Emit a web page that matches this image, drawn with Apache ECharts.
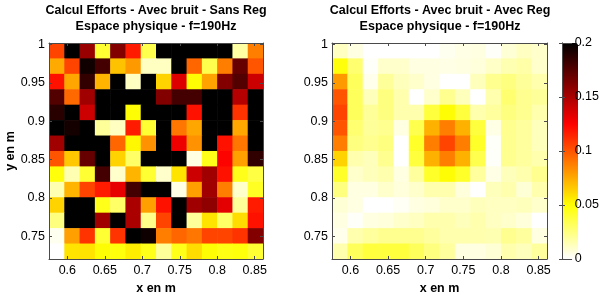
<!DOCTYPE html>
<html><head><meta charset="utf-8">
<script src="https://cdn.jsdelivr.net/npm/echarts@6/dist/echarts.min.js"></script>
<style>html,body{margin:0;padding:0;background:#fff}#c{width:602px;height:300px}</style>
</head><body><div id="c"></div>
<script>
// cell centres (data units, metres)
const xCenters = [0.5857, 0.6061, 0.6265, 0.6469, 0.6673, 0.6877, 0.7081, 0.7285, 0.7489, 0.7693, 0.7897, 0.8101, 0.8305, 0.8509];
// rows listed from top (y high) to bottom
const yCenters = [0.9919, 0.9718, 0.9517, 0.9316, 0.9115, 0.8914, 0.8713, 0.8512, 0.8311, 0.8110, 0.7909, 0.7708, 0.7507, 0.7306];
const xRange = [0.5755, 0.8611];
const yRange = [0.7205, 1.0019];
const colorRange = [0, 0.2];
const colorTicks = [0, 0.05, 0.1, 0.15, 0.2];

const titleLeft = ['Calcul Efforts - Avec bruit - Sans Reg', 'Espace physique - f=190Hz'];
const titleRight = ['Calcul Efforts - Avec bruit - Avec Reg', 'Espace physique - f=190Hz'];
const xName = 'x en m';
const yName = 'y en m';

// |effort| values, rows top -> bottom, columns left -> right
const sansReg = [
  [0.105, 0.2, 0.155, 0.04, 0.162, 0.117, 0.035, 0.2, 0.2, 0.2, 0.2, 0.2, 0.018, 0.088],
  [0.075, 0.105, 0.195, 0.18, 0.068, 0.08, 0.012, 0.012, 0.2, 0.095, 0.035, 0.088, 0.17, 0.1],
  [0.12, 0.076, 0.185, 0.072, 0.2, 0.012, 0.2, 0.063, 0.135, 0.05, 0.077, 0.162, 0.176, 0.14],
  [0.176, 0.094, 0.153, 0.2, 0.2, 0.2, 0.2, 0.162, 0.18, 0.18, 0.2, 0.2, 0.147, 0.2],
  [0.188, 0.2, 0.14, 0.2, 0.2, 0.05, 0.2, 0.2, 0.2, 0.12, 0.2, 0.2, 0.11, 0.2],
  [0.2, 0.194, 0.2, 0.02, 0.012, 0.117, 0.04, 0.2, 0.09, 0.076, 0.2, 0.2, 0.076, 0.2],
  [0.153, 0.2, 0.2, 0.2, 0.095, 0.052, 0.082, 0.2, 0.13, 0.082, 0.2, 0.12, 0.09, 0.2],
  [0.1, 0.066, 0.17, 0.2, 0.063, 0.03, 0.2, 0.2, 0.2, 0.006, 0.045, 0.125, 0.078, 0.186],
  [0.048, 0.015, 0.04, 0.18, 0.01, 0.072, 0.04, 0.01, 0.058, 0.14, 0.153, 0.12, 0.045, 0.037],
  [0.015, 0.072, 0.105, 0.117, 0.132, 0.18, 0.2, 0.2, 0.005, 0.078, 0.153, 0.088, 0.01, 0.043],
  [0.063, 0.2, 0.2, 0.045, 0.03, 0.15, 0.078, 0.12, 0.2, 0.153, 0.158, 0.133, 0.02, 0.117],
  [0.025, 0.2, 0.2, 0.153, 0.2, 0.15, 0.023, 0.105, 0.2, 0.02, 0.058, 0.03, 0.06, 0.12],
  [0.003, 0.078, 0.11, 0.04, 0.11, 0.2, 0.196, 0.088, 0.095, 0.09, 0.105, 0.105, 0.11, 0.162],
  [0, 0.058, 0.058, 0.05, 0.048, 0.055, 0.045, 0.02, 0.045, 0.06, 0.05, 0.046, 0.048, 0.04]
];
const avecReg = [
  [0.012, 0.006, 0, 0, 0, 0, 0, 0.003, 0.005, 0.006, 0.001, 0.008, 0.012, 0.01],
  [0.048, 0.028, 0.001, 0.01, 0.01, 0.006, 0.006, 0.005, 0.006, 0.007, 0.011, 0.015, 0.017, 0.01],
  [0.08, 0.032, 0.004, 0.02, 0.013, 0.01, 0.006, 0, 0, 0.013, 0.022, 0.025, 0.02, 0.016],
  [0.1, 0.032, 0.013, 0.025, 0.016, 0, 0.01, 0.022, 0.013, 0, 0.016, 0.028, 0.022, 0.02],
  [0.105, 0.032, 0.02, 0.025, 0.016, 0.016, 0.038, 0.05, 0.038, 0.016, 0.019, 0.025, 0.022, 0.016],
  [0.1, 0.028, 0.02, 0.022, 0.006, 0.035, 0.073, 0.088, 0.073, 0.038, 0.005, 0.022, 0.019, 0.013],
  [0.088, 0.025, 0.022, 0.025, 0, 0.042, 0.088, 0.105, 0.088, 0.042, 0.001, 0.022, 0.019, 0.013],
  [0.063, 0.016, 0.013, 0.022, 0, 0.038, 0.073, 0.088, 0.073, 0.035, 0.001, 0.022, 0.019, 0.016],
  [0.042, 0.01, 0.013, 0.016, 0.006, 0.019, 0.042, 0.05, 0.042, 0.019, 0.005, 0.013, 0.016, 0.022],
  [0.025, 0.006, 0.006, 0.01, 0.007, 0.01, 0.016, 0.016, 0.007, 0, 0.013, 0.016, 0.008, 0.016],
  [0.008, 0.006, 0, 0, 0.002, 0.006, 0.007, 0.01, 0.01, 0.013, 0.012, 0.012, 0.013, 0.01],
  [0.006, 0.001, 0.006, 0.007, 0.01, 0.012, 0.016, 0.016, 0.013, 0.016, 0.012, 0.01, 0.007, 0],
  [0.004, 0.016, 0.019, 0.022, 0.022, 0.022, 0.019, 0.016, 0.016, 0.016, 0.015, 0.022, 0.019, 0.006],
  [0.016, 0.032, 0.038, 0.038, 0.038, 0.032, 0.025, 0.019, 0.006, 0.006, 0.008, 0.016, 0.013, 0.019]
];

// reversed MATLAB "hot" colormap (white at 0, black at max)
function hotReversed(n) {
  const out = [];
  const c = v => Math.round(255 * Math.max(0, Math.min(1, v)));
  for (let i = 0; i < n; i++) {
    const t = 1 - i / (n - 1);
    out.push('rgb(' + c(t / 0.375) + ',' + c((t - 0.375) / 0.375) + ',' + c((t - 0.75) / 0.25) + ')');
  }
  return out;
}

function toData(grid) {
  const d = [];
  grid.forEach((row, r) => row.forEach((v, k) => d.push([xCenters[k], yCenters[r], v])));
  return d;
}
const dx = xCenters[1] - xCenters[0];
const dy = yCenters[0] - yCenters[1];
function renderCell(params, api) {
  const x = api.value(0), y = api.value(1);
  const p0 = api.coord([x - dx / 2, y + dy / 2]);
  const p1 = api.coord([x + dx / 2, y - dy / 2]);
  return { type: 'rect', shape: { x: p0[0], y: p0[1], width: p1[0] - p0[0] + 0.6, height: p1[1] - p0[1] + 0.6 },
           style: { fill: api.visual('color') } };
}

const FONT = "'Liberation Sans Narrow', 'Liberation Sans', Arial, sans-serif";
const FS = 12.5;
const frameColor = '#4a4a4a';
const fmt = v => { const k = Math.round(v / 0.05); return Math.abs(v - k * 0.05) < 1e-6 ? String(+(k * 0.05).toFixed(2)) : ''; };

function axisPair(kind, gridIndex, range, labels, name, nameGap) {
  const main = {
    type: 'value', gridIndex, min: range[0], max: range[1], z: 10,
    position: kind === 'x' ? 'bottom' : 'left',
    splitLine: { show: false },
    axisLine: { show: true, onZero: false, lineStyle: { color: frameColor, width: 1 } },
    axisTick: { show: true, inside: true, length: 3, lineStyle: { color: frameColor } },
    axisLabel: { show: labels, formatter: fmt, color: '#000', fontFamily: FONT, fontSize: FS, margin: kind === 'x' ? 5 : 4,
                 showMinLabel: false, showMaxLabel: false },
  };
  if (name) {
    Object.assign(main, { name, nameLocation: 'middle', nameGap,
      nameTextStyle: { color: '#000', fontFamily: FONT, fontSize: FS, fontWeight: 'bold' } });
  }
  const mirror = {
    type: 'value', gridIndex, min: range[0], max: range[1], z: 10,
    position: kind === 'x' ? 'top' : 'right',
    splitLine: { show: false },
    axisLine: { show: true, onZero: false, lineStyle: { color: frameColor, width: 1 } },
    axisTick: { show: true, inside: true, length: 3, lineStyle: { color: frameColor } },
    axisLabel: { show: false }
  };
  return [main, mirror];
}

const xAxes = [
  ...axisPair('x', 0, xRange, true, xName, 15),
  ...axisPair('x', 1, xRange, true, xName, 15),
  { type: 'value', gridIndex: 2, min: 0, max: 1, position: 'bottom', z: 10, axisLine: { show: true, onZero: false, lineStyle: { color: frameColor } }, axisTick: { show: false }, axisLabel: { show: false }, splitLine: { show: false } },
  { type: 'value', gridIndex: 2, min: 0, max: 1, position: 'top', z: 10, axisLine: { show: true, onZero: false, lineStyle: { color: frameColor } }, axisTick: { show: false }, axisLabel: { show: false }, splitLine: { show: false } }
];
const yAxes = [
  ...axisPair('y', 0, yRange, true, yName, 28),
  ...axisPair('y', 1, yRange, true, null, 0),
  { type: 'value', gridIndex: 2, min: colorRange[0], max: colorRange[1], interval: 0.05, position: 'left', z: 10,
    axisLine: { show: true, lineStyle: { color: frameColor } }, axisTick: { show: true, inside: true, length: 3, lineStyle: { color: frameColor } },
    axisLabel: { show: false }, splitLine: { show: false } },
  { type: 'value', gridIndex: 2, min: colorRange[0], max: colorRange[1], interval: 0.05, position: 'right', z: 10,
    axisLine: { show: true, lineStyle: { color: frameColor } }, axisTick: { show: true, inside: true, length: 3, lineStyle: { color: frameColor } },
    axisLabel: { show: true, color: '#000', fontFamily: FONT, fontSize: FS, margin: 3, formatter: v => colorTicks.includes(+v.toFixed(2)) ? String(+v.toFixed(2)) : '' },
    splitLine: { show: false } }
];

function titleText(lines, cx) {
  return { type: 'text', x: cx, y: 3, z: 100,
    style: { text: lines.join('\n'), align: 'center', verticalAlign: 'top', fill: '#000',
             font: 'bold ' + FS + 'px ' + FONT, lineHeight: 16 } };
}

const chart = echarts.init(document.getElementById('c'), null, { renderer: 'canvas' });
chart.setOption({
  animation: false,
  backgroundColor: '#fff',
  grid: [
    { left: 49, top: 43, width: 214, height: 216 },
    { left: 332, top: 43, width: 215, height: 216 },
    { left: 562, top: 43, width: 16, height: 216 }
  ],
  xAxis: xAxes,
  yAxis: yAxes,
  visualMap: {
    type: 'continuous', min: colorRange[0], max: colorRange[1], seriesIndex: [0, 1], dimension: 2,
    inRange: { color: hotReversed(64) }, show: true, calculable: false, hoverLink: false,
    left: 562, top: 43, itemWidth: 16, itemHeight: 216, padding: 0, orient: 'vertical', z: 1
  },
  graphic: [titleText(titleLeft, 156), titleText(titleRight, 440)],
  series: [
    { type: 'custom', xAxisIndex: 0, yAxisIndex: 0, renderItem: renderCell, data: toData(sansReg), clip: true },
    { type: 'custom', xAxisIndex: 2, yAxisIndex: 2, renderItem: renderCell, data: toData(avecReg), clip: true }
  ]
});
</script></body></html>
